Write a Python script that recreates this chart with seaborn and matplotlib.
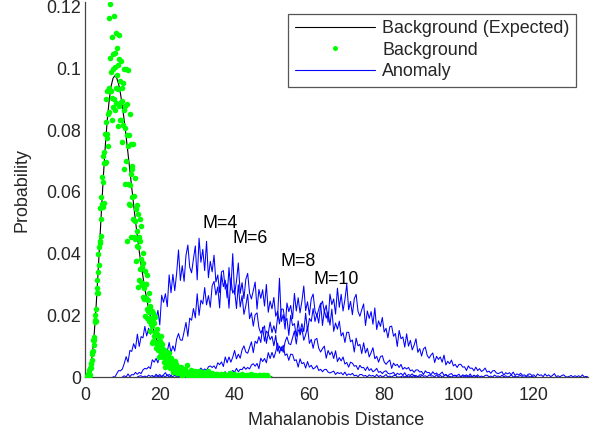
import matplotlib
matplotlib.use("Agg")
import matplotlib.pyplot as plt
from matplotlib.lines import Line2D
from matplotlib.ticker import FuncFormatter
import numpy as np
import seaborn as sns

# probabilities below are stored in units of 1e-4
SCALE = 1e-4

# expected background density (black curve)
expected_x = [0, 0.5, 1, 1.5, 2, 2.5, 3, 3.5, 4, 4.5, 5, 5.5, 6, 6.5, 7, 7.5, 8, 8.5, 9, 9.5,
              10, 10.5, 11, 11.5, 12, 12.5, 13, 13.5, 14, 14.5, 15, 16, 17, 18, 19, 20, 21, 22,
              23, 24, 25, 26, 28, 30, 32, 35, 40, 45, 50]
expected_p = [0, 0.6, 8, 31, 77, 146, 235, 340, 451, 563, 668, 762, 840, 901, 944, 969, 977, 969,
              949, 918, 877, 831, 779, 725, 669, 614, 559, 506, 456, 408, 365, 286, 221, 169, 127,
              95, 70, 51, 37, 26.5, 19, 13.4, 6.7, 3.2, 1.5, 0.5, 0.07, 0.01, 0]

# measured background (green dots): fine grid from 0.5 (step 0.1), coarser tail from 25.25 (step 0.25)
bg_core_x0, bg_core_step = 0.5, 0.1
bg_core_p = [2, 0, 6, 11, 4, 3, 12, 22, 8, 29, 29, 47, 41, 75, 54, 82, 85, 120, 103, 130,
             121, 177, 201, 186, 221, 183, 289, 273, 313, 274, 398, 339, 420, 364, 442, 548, 435,
             511, 456, 584, 647, 562, 552, 633, 717, 564, 728, 693, 789, 694, 903, 697, 826, 787,
             928, 775, 853, 750, 938, 1165, 858, 928, 1210, 1036, 928, 989, 833, 1102, 906, 1048,
             877, 1000, 1169, 902, 1005, 865, 1051, 1116, 937, 888, 978, 1068, 813, 1013, 935,
             1030, 880, 1108, 833, 960, 892, 1024, 832, 894, 763, 936, 952, 817, 867, 675, 998,
             807, 878, 626, 1000, 700, 884, 440, 785, 996, 627, 750, 561, 785, 852, 624, 558, 658,
             755, 455, 676, 583, 683, 512, 754, 455, 586, 510, 645, 446, 506, 377, 545, 558, 426,
             472, 292, 528, 420, 455, 316, 511, 349, 442, 307, 384, 489, 298, 358, 261, 370, 402,
             287, 252, 299, 343, 197, 302, 256, 301, 220, 332, 191, 250, 214, 274, 183, 210, 150,
             226, 231, 171, 191, 109, 215, 166, 181, 118, 206, 133, 174, 114, 147, 194, 109, 135,
             93, 140, 155, 103, 88, 109, 129, 66, 111, 96, 117, 79, 132, 67, 94, 78, 107, 64, 77,
             50, 86, 88, 61, 70, 33, 82, 59, 68, 38, 80, 45, 66, 37, 54, 77, 36, 50, 28, 53, 62,
             36, 28, 39, 50, 17, 42, 32, 43, 24, 52, 18, 33, 26, 41, 19, 26, 12, 32, 34, 19]
bg_tail_x0, bg_tail_step = 25.25, 0.25
bg_tail_p = [12, 21, 31, 4, 23, 15, 25, 9, 38, 4, 17, 10, 24, 6, 12, 2, 16, 18, 12, 2, 15, 20, 7,
             3, 9, 15, 1, 11, 7, 12, 4, 18, 2, 9, 6, 12, 2, 6, 1, 9, 10, 7, 1, 8, 11, 4, 2, 5, 9,
             0, 7, 4, 8, 2, 12, 1, 6, 4, 9, 2, 4, 0, 7, 8, 5, 1, 7, 9, 3, 1, 4, 8, 0, 6, 3, 7, 2,
             10, 1, 5, 3, 8, 1, 3, 0, 6, 7, 4, 0, 6, 8, 2, 1, 3, 7, 0]

# anomaly densities (blue lines), step 0.5
anom_step = 0.5
m4_x0 = 7.5
m4_p = [1, 0, 11, 21, 20, 26, 44, 66, 48, 86, 83, 108, 92, 139, 99, 131, 127, 164, 133, 158,
        139, 194, 211, 189, 216, 169, 265, 242, 270, 228, 331, 273, 333, 280, 336, 412, 313, 361,
        310, 394, 428, 356, 338, 383, 425, 315, 450, 372, 414, 345, 440, 322, 375, 341, 395, 308,
        331, 274, 341, 345, 285, 302, 223, 320, 272, 284, 222, 299, 227, 264, 203, 231, 268, 189,
        208, 165, 202, 208, 160, 142, 154, 166, 109, 142, 121, 132, 101, 135, 84, 100, 85, 103,
        70, 75, 54, 74, 73, 53, 56, 32, 59, 43, 47, 29, 50, 32, 38, 26, 30, 37, 21, 25, 17, 24,
        25, 16, 13, 16, 19, 8, 15, 11, 14, 7, 16, 5, 10, 7, 12, 4, 6, 1, 8, 8, 3, 5, 0, 7, 3, 5,
        0, 8, 1, 5, 0, 3, 8, 0, 3, 0, 4, 6, 0, 0, 1, 4, 0, 3, 0, 3, 0, 6, 0, 2, 0, 4]
m6_x0 = 10.0
m6_p = [0, 4, 0, 10, 1, 8, 7, 15, 9, 15, 11, 23, 28, 26, 33, 27, 56, 48, 60, 46, 83, 62, 83, 63,
        83, 112, 79, 101, 84, 123, 141, 120, 119, 147, 177, 132, 191, 184, 222, 192, 270, 200,
        249, 237, 290, 234, 264, 226, 296, 310, 266, 292, 224, 333, 293, 314, 257, 355, 281, 400,
        268, 311, 370, 271, 306, 254, 317, 336, 272, 253, 281, 308, 220, 284, 255, 283, 230, 300,
        210, 246, 221, 258, 197, 213, 172, 220, 220, 180, 190, 135, 200, 167, 173, 132, 182, 136,
        158, 119, 137, 162, 109, 122, 93, 121, 125, 93, 81, 92, 100, 61, 86, 72, 82, 60, 85, 50,
        63, 52, 65, 42, 47, 32, 48, 45, 35, 37, 24, 38, 30, 31, 21, 33, 21, 27, 17, 21, 28, 15,
        18, 11, 18, 20, 12, 10, 12, 15, 5, 12, 8, 12, 6, 14, 3, 8, 5, 10, 2, 5, 0, 7, 7, 2, 4, 0,
        7, 3, 4, 0, 7, 0, 5, 0, 3, 8, 0, 2, 0, 4, 6, 0, 0, 1, 4, 0, 3, 0, 3, 0, 6, 0, 2]
m8_x0 = 14.0
m8_p = [0, 3, 4, 0, 3, 0, 6, 2, 5, 0, 9, 3, 8, 2, 7, 14, 4, 8, 4, 11, 14, 9, 7, 11, 16, 7, 16,
        13, 19, 13, 25, 14, 22, 20, 29, 21, 26, 21, 33, 36, 31, 36, 27, 46, 40, 49, 34, 65, 46,
        65, 48, 64, 86, 59, 74, 61, 88, 101, 81, 77, 96, 114, 79, 116, 109, 131, 112, 161, 116,
        149, 141, 178, 144, 166, 142, 194, 320, 180, 202, 155, 240, 212, 232, 189, 271, 214, 257,
        208, 246, 295, 215, 244, 201, 254, 269, 214, 198, 220, 239, 167, 216, 191, 211, 168, 220,
        148, 175, 155, 181, 133, 144, 112, 145, 145, 114, 120, 81, 126, 101, 106, 76, 111, 78,
        93, 65, 79, 95, 59, 67, 48, 66, 69, 49, 41, 49, 55, 28, 45, 37, 41, 31, 41, 25, 31, 26,
        31, 20, 23, 15, 23, 23, 16, 18, 8, 20, 14, 15, 7, 17, 9, 13, 6, 10, 16, 5, 8, 3, 9, 11,
        4, 3, 5, 9, 0, 7, 4, 7, 2, 10, 0, 5, 2, 7, 0, 3, 0, 5, 6, 1, 3, 0, 6, 2, 3, 0, 6, 0, 4,
        0, 2, 7, 0, 2, 0, 3, 5, 0, 0, 1, 4, 0, 2, 0]
m10_x0 = 18.0
m10_p = [0, 1, 4, 0, 3, 1, 4, 0, 7, 0, 3, 1, 6, 0, 2, 0, 5, 6, 1, 4, 0, 7, 3, 5, 0, 10, 3, 8, 2,
         7, 14, 4, 8, 3, 11, 14, 9, 8, 12, 17, 8, 17, 15, 21, 15, 28, 17, 25, 24, 33, 25, 31, 26,
         39, 43, 35, 44, 27, 61, 50, 60, 46, 79, 60, 80, 62, 82, 110, 77, 98, 80, 114, 130, 108,
         105, 127, 149, 107, 153, 146, 173, 147, 207, 150, 190, 180, 222, 180, 205, 175, 233, 246,
         212, 233, 178, 269, 235, 253, 204, 288, 226, 268, 214, 251, 301, 218, 245, 202, 254, 268,
         213, 197, 218, 237, 167, 214, 190, 212, 171, 224, 154, 182, 164, 193, 146, 158, 127, 163,
         165, 132, 141, 99, 151, 124, 130, 97, 140, 100, 119, 88, 103, 124, 80, 92, 68, 91, 97,
         70, 61, 71, 78, 47, 67, 57, 65, 48, 71, 39, 51, 43, 55, 36, 41, 31, 41, 41, 32, 33, 21,
         36, 28, 29, 20, 32, 21, 27, 18, 22, 29, 16, 19, 12, 20, 21, 13, 11, 14, 17, 6, 14, 10,
         14, 7, 16, 5, 10, 7, 12, 5, 7, 2, 9, 10, 5, 7, 0, 10, 5, 7, 1, 10, 3, 7, 1, 5, 11, 1, 4,
         0, 5, 7, 1, 0, 2, 5, 0, 4, 1, 4, 0, 7, 0, 2, 0]

anomalies = [(m4_x0, m4_p), (m6_x0, m6_p), (m8_x0, m8_p), (m10_x0, m10_p)]
anomaly_labels = ["M=4", "M=6", "M=8", "M=10"]
label_pos = [(31.4, 0.0499), (39.5, 0.0448), (52.2, 0.0376), (61.0, 0.0315)]

x_ticks = [0, 20, 40, 60, 80, 100, 120]
y_ticks = [0, 0.02, 0.04, 0.06, 0.08, 0.1, 0.12]

FS = 12.9


def main() -> None:
    sns.set_style("white")
    plt.rcParams["font.family"] = ["Liberation Sans", "DejaVu Sans"]
    plt.rcParams["font.size"] = FS

    fig = plt.figure(figsize=(5.95, 4.33), dpi=100)
    ax = fig.add_axes([85 / 595, 56 / 433, 503 / 595, 375 / 433])

    sns.lineplot(x=expected_x, y=np.array(expected_p) * SCALE, color="black", linewidth=0.8,
                 estimator=None, sort=False, ax=ax, zorder=2)

    for x0, vals in anomalies:
        xs = x0 + anom_step * np.arange(len(vals))
        sns.lineplot(x=xs, y=np.array(vals) * SCALE, color="#0000ff", linewidth=0.75,
                     estimator=None, sort=False, ax=ax, zorder=2)

    bg_x = np.concatenate([bg_core_x0 + bg_core_step * np.arange(len(bg_core_p)),
                           bg_tail_x0 + bg_tail_step * np.arange(len(bg_tail_p))])
    bg_y = np.array(bg_core_p + bg_tail_p) * SCALE
    sns.scatterplot(x=bg_x, y=bg_y, color="#00ff00", s=16, linewidth=0, ax=ax, zorder=3)

    for text, (tx, ty) in zip(anomaly_labels, label_pos):
        ax.text(tx, ty, text, ha="left", va="center", fontsize=FS, color="black")

    ax.set_xlim(0, 134.5)
    ax.set_ylim(0, 0.1216)
    ax.set_xticks(x_ticks)
    ax.set_yticks(y_ticks)
    ax.yaxis.set_major_formatter(FuncFormatter(lambda v, _: f"{v:g}"))
    ax.tick_params(direction="in", length=4.5, width=0.8, color="#555555", labelsize=FS)
    ax.tick_params(axis="x", pad=7)
    ax.tick_params(axis="y", pad=3)

    for side in ("top", "right"):
        ax.spines[side].set_visible(False)
    for side in ("left", "bottom"):
        ax.spines[side].set_color("#444444")
        ax.spines[side].set_linewidth(0.9)

    ax.set_xlabel("Mahalanobis Distance", fontsize=FS)
    ax.set_ylabel("Probability", fontsize=FS)
    ax.xaxis.set_label_coords(0.5, -0.093)
    ax.yaxis.set_label_coords(-0.109, 0.5)

    handles = [
        Line2D([], [], color="black", linewidth=0.8),
        Line2D([], [], color="#00ff00", marker="o", markersize=3.6, linestyle="none",
               markeredgewidth=0),
        Line2D([], [], color="#0000ff", linewidth=0.8),
    ]
    leg = ax.legend(handles, ["Background (Expected)", "Background", "Anomaly"],
                    loc="upper right", bbox_to_anchor=(576 / 595, 1 - 14 / 433),
                    bbox_transform=fig.transFigure, borderaxespad=0, fancybox=False,
                    framealpha=1, edgecolor="#555555", handlelength=4.5, handletextpad=0.4,
                    borderpad=0.35, labelspacing=0.25, numpoints=1, fontsize=FS)
    leg.get_frame().set_linewidth(0.9)

    fig.savefig("out.png", dpi=100)
    plt.close(fig)


if __name__ == "__main__":
    main()
